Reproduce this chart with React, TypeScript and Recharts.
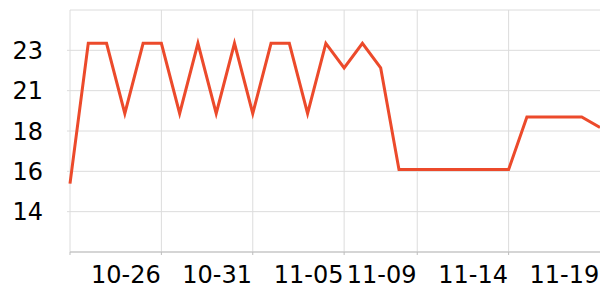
import React from 'react';
import { LineChart, Line, XAxis, YAxis, CartesianGrid, ReferenceLine } from 'recharts';

const dates = [
  '10-23', '10-24', '10-25', '10-26', '10-27', '10-28', '10-29', '10-30', '10-31',
  '11-01', '11-02', '11-03', '11-04', '11-05', '11-06', '11-07', '11-08', '11-09',
  '11-10', '11-11', '11-12', '11-13', '11-14', '11-15', '11-16', '11-17', '11-18',
  '11-19', '11-20', '11-21',
];

const values = [
  15.4, 23.4, 23.4, 19.4, 23.4, 23.4, 19.4, 23.4, 19.4, 23.4,
  19.4, 23.4, 23.4, 19.4, 23.4, 22.0, 23.4, 22.0, 16.2, 16.2,
  16.2, 16.2, 16.2, 16.2, 16.2, 19.2, 19.2, 19.2, 19.2, 18.6,
];

// labels sit between the split lines, like the original time axis
const labelDates = ['10-26', '10-31', '11-05', '11-09', '11-14', '11-19'];
const splitDates = ['10-23', '10-28', '11-02', '11-07', '11-11', '11-16'];

const yTicks = [13.8, 16.1, 18.4, 20.7, 23.0];
const yDomain = [11.5, 25.3];

const data = dates.map((d, i) => ({ date: d, value: values[i] }));
const xTicks = dates.filter(d => labelDates.includes(d) || splitDates.includes(d));

const FONT = '"DejaVu Sans", sans-serif';

const DateTick = (props: any) => {
  const { x, y, payload } = props;
  const v = payload.value;
  return (
    <g>
      {splitDates.includes(v) && <line x1={x} x2={x} y1={y} y2={y + 3} stroke="#bdbdbd" />}
      {labelDates.includes(v) && (
        <text x={x + 1} y={y + 31} textAnchor="middle" fontSize={24} fontFamily={FONT} fill="#000">
          {v}
        </text>
      )}
    </g>
  );
};

const App = () => {
  return (
    <div style={{ position: 'absolute', left: 0, top: 0, width: 600, height: 300, background: '#fff' }}>
      <LineChart width={600} height={300} data={data} margin={{ top: 10, right: 0, bottom: 18, left: 0 }}>
        <CartesianGrid vertical={false} stroke="#dcdcdc" />
        {splitDates.map(d => (
          <ReferenceLine key={d} x={d} stroke="#dcdcdc" />
        ))}
        <XAxis
          dataKey="date"
          ticks={xTicks}
          interval={0}
          height={30}
          tickSize={0}
          tickMargin={0}
          tickLine={false}
          axisLine={{ stroke: '#bdbdbd' }}
          tick={<DateTick />}
        />
        <YAxis
          type="number"
          domain={yDomain}
          ticks={yTicks}
          width={70}
          tickLine={{ stroke: '#dcdcdc' }}
          axisLine={false}
          tickSize={3}
          tickMargin={24}
          tickFormatter={(v: number) => String(Math.round(v))}
          tick={{ fontSize: 24, fontFamily: FONT, fill: '#000' }}
        />
        <Line
          type="linear"
          dataKey="value"
          stroke="#ec4a2b"
          strokeWidth={3}
          dot={false}
          isAnimationActive={false}
        />
      </LineChart>
    </div>
  );
};

export default App;
